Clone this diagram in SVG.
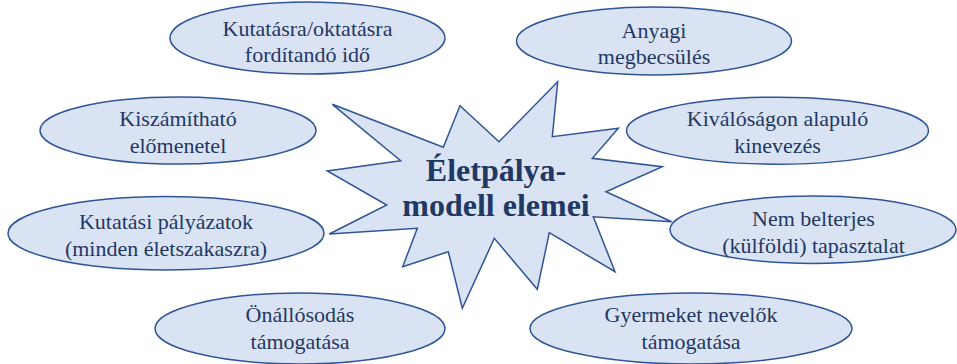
<svg xmlns="http://www.w3.org/2000/svg" width="957" height="364" viewBox="0 0 957 364">
<style>
.shape{fill:#dae3f3;stroke:#2f5597;stroke-width:1.5}
.t{font-family:'Times New Roman','Liberation Serif','DejaVu Serif',serif;font-size:22px;fill:#1f3864;text-anchor:middle}
.c{font-family:'Times New Roman','Liberation Serif','DejaVu Serif',serif;font-size:32px;font-weight:bold;fill:#1f3864;text-anchor:middle}
</style>
<rect width="957" height="364" fill="#ffffff"/>
<g id="connectors"></g>
<g id="center">
<polygon class="shape" points="332.3,104.3 443.3,147.3 460,105.7 499,141.7 557.7,81.7 552.3,136.7 618.3,128.3 592.3,158.3 662.3,166.7 606,191.7 671.7,221.7 593.3,216.7 615,271.7 549.3,232.7 537.3,289.3 494.3,238.3 462.3,308.3 448.3,251.7 402.7,266.7 417.3,228.3 329.3,234 386.7,205 327.3,171 400.7,160.7"/>
<text class="c" x="496" y="181" font-family="Liberation Serif, serif">Életpálya-</text>
<text class="c" x="496" y="216" font-family="Liberation Serif, serif">modell elemei</text>
</g>
<g id="n1">
<ellipse class="shape" cx="307.5" cy="38" rx="137.5" ry="36"/>
<text class="t" x="307.5" y="36">Kutatásra/oktatásra</text>
<text class="t" x="307.5" y="61.5">fordítandó idő</text>
</g>
<g id="n2">
<ellipse class="shape" cx="654" cy="41" rx="137.5" ry="34"/>
<text class="t" x="654" y="37.5">Anyagi</text>
<text class="t" x="654" y="64">megbecsülés</text>
</g>
<g id="n3">
<ellipse class="shape" cx="178" cy="130.5" rx="138" ry="33.5"/>
<text class="t" x="178" y="125.5">Kiszámítható</text>
<text class="t" x="178" y="153">előmenetel</text>
</g>
<g id="n4">
<ellipse class="shape" cx="777.5" cy="130.7" rx="151" ry="33.5"/>
<text class="t" x="777.5" y="125.5">Kiválóságon alapuló</text>
<text class="t" x="777.5" y="153">kinevezés</text>
</g>
<g id="n5">
<ellipse class="shape" cx="166" cy="233.3" rx="158" ry="36.7"/>
<text class="t" x="166" y="228.5">Kutatási pályázatok</text>
<text class="t" x="166" y="255.5">(minden életszakaszra)</text>
</g>
<g id="n6">
<ellipse class="shape" cx="813" cy="229.7" rx="143" ry="33.7"/>
<text class="t" x="813.5" y="225.5">Nem belterjes</text>
<text class="t" x="813.5" y="253">(külföldi) tapasztalat</text>
</g>
<g id="n7">
<ellipse class="shape" cx="300" cy="328.5" rx="145" ry="35.5"/>
<text class="t" x="300" y="322">Önállósodás</text>
<text class="t" x="300" y="348.5">támogatása</text>
</g>
<g id="n8">
<ellipse class="shape" cx="691" cy="328.5" rx="161" ry="35.5"/>
<text class="t" x="691" y="322">Gyermeket nevelők</text>
<text class="t" x="691" y="348.5">támogatása</text>
</g>
</svg>
